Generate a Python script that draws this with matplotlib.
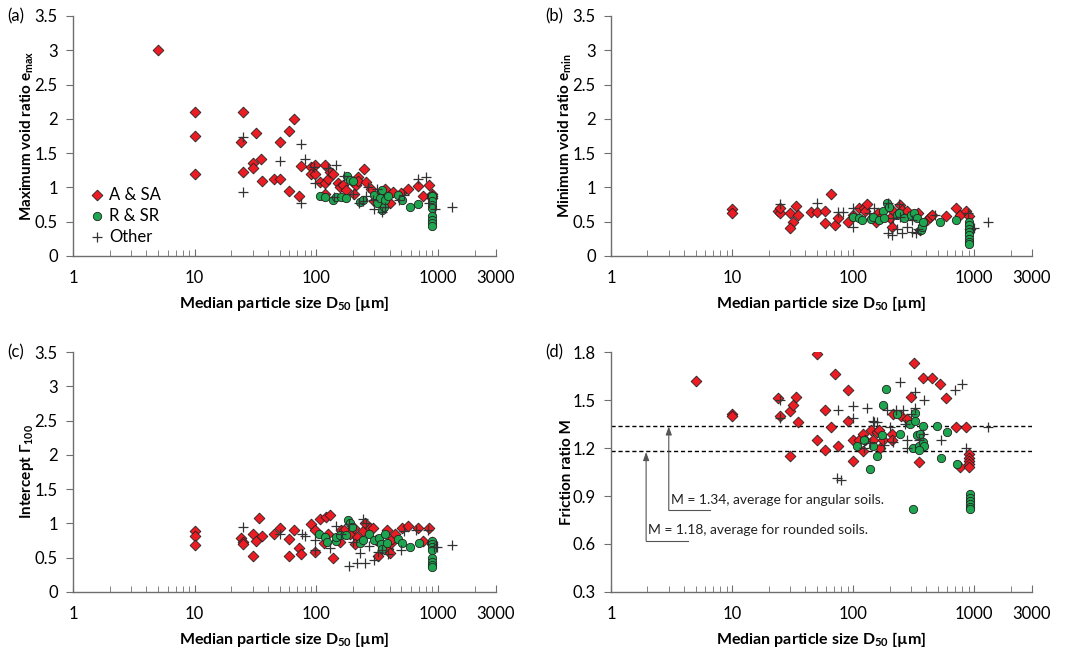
import matplotlib.pyplot as plt
import numpy as np
from matplotlib.ticker import FixedLocator, FuncFormatter

plt.rcParams['font.family'] = ['Lato', 'DejaVu Sans']
plt.rcParams['mathtext.fontset'] = 'custom'
plt.rcParams['mathtext.rm'] = 'Lato'
plt.rcParams['mathtext.bf'] = 'Lato:bold'

# (a) maximum void ratio  -- D50 [um], e_max
a_ang_x = [5, 10, 10, 10, 25, 24, 25, 32, 35, 30, 30, 36, 45, 50, 50, 60, 65, 60, 72, 75,
           90, 90, 97, 97, 107, 118, 118, 125, 130, 138, 118, 150, 158, 165, 175, 200, 210,
           220, 220, 245, 255, 280, 205, 300, 330, 350, 370, 400, 430, 500, 570, 690, 750,
           850, 900, 900, 900]
a_ang_y = [3.0, 2.1, 1.75, 1.2, 2.1, 1.66, 1.22, 1.8, 1.42, 1.36, 1.28, 1.1, 1.12, 1.12, 1.66,
           1.83, 2.0, 0.95, 0.88, 1.31, 1.3, 1.2, 1.33, 1.2, 1.08, 1.32, 1.07, 1.12, 1.22, 1.2,
           0.9, 1.07, 1.0, 1.03, 0.96, 1.08, 1.03, 1.15, 1.1, 1.27, 1.08, 0.98, 0.9, 0.8, 0.9,
           0.87, 0.97, 0.77, 0.94, 0.92, 0.98, 1.02, 0.87, 1.03, 0.9, 0.88, 0.85]
a_rnd_x = [107, 118, 138, 145, 160, 175, 178, 190, 200, 230, 240, 300, 315, 335, 345, 350,
           360, 370, 390, 470, 510, 590, 690, 900, 900, 900, 900, 900, 900, 900, 900]
a_rnd_y = [0.88, 0.86, 0.81, 0.86, 0.86, 0.84, 1.17, 1.11, 1.1, 0.79, 0.82, 0.89, 0.77, 0.84,
           0.96, 0.67, 0.72, 0.82, 0.87, 0.89, 0.82, 0.71, 0.76, 0.87, 0.8, 0.75, 0.7, 0.58,
           0.53, 0.48, 0.44]
a_oth_x = [25, 25, 50, 75, 80, 75, 95, 97, 125, 145, 170, 200, 225, 240, 255, 265, 300, 315,
           350, 370, 480, 530, 680, 790, 850, 950, 1300, 140, 290]
a_oth_y = [1.73, 0.94, 1.39, 1.64, 1.41, 0.77, 1.3, 1.06, 1.28, 1.32, 1.16, 0.91, 0.77, 0.8,
           0.87, 1.0, 0.68, 0.98, 0.64, 0.72, 0.82, 0.89, 1.12, 1.15, 0.77, 0.69, 0.71, 0.86,
           0.82]

# (b) minimum void ratio
b_ang_x = [10, 10, 24, 25, 25, 30, 32, 30, 34, 35, 45, 50, 59, 59, 65, 71, 75, 90, 100, 111,
           123, 126, 130, 160, 155, 170, 210, 210, 200, 245, 255, 280, 340, 355, 410, 435,
           450, 580, 710, 760, 850, 910, 920]
b_ang_y = [0.69, 0.62, 0.66, 0.63, 0.7, 0.62, 0.49, 0.41, 0.73, 0.6, 0.64, 0.64, 0.66, 0.48,
           0.9, 0.45, 0.56, 0.49, 0.6, 0.7, 0.7, 0.65, 0.76, 0.62, 0.5, 0.57, 0.67, 0.43, 0.55,
           0.74, 0.67, 0.66, 0.62, 0.38, 0.52, 0.57, 0.6, 0.58, 0.7, 0.6, 0.66, 0.58, 0.4]
b_rnd_x = [100, 111, 118, 140, 145, 163, 175, 180, 190, 198, 230, 240, 265, 300, 320, 335,
           360, 370, 380, 520, 710, 900, 900, 900, 900, 900, 900, 900, 900]
b_rnd_y = [0.57, 0.55, 0.53, 0.54, 0.57, 0.52, 0.65, 0.56, 0.77, 0.72, 0.6, 0.62, 0.55, 0.6,
           0.62, 0.55, 0.38, 0.43, 0.5, 0.5, 0.52, 0.5, 0.45, 0.4, 0.35, 0.3, 0.25, 0.2, 0.18]
b_oth_x = [25, 50, 75, 82, 100, 100, 150, 135, 195, 195, 210, 230, 255, 280, 305, 330, 345,
           245, 470, 880, 1000, 1300, 240, 215, 305]
b_oth_y = [0.76, 0.77, 0.64, 0.64, 0.7, 0.43, 0.7, 0.62, 0.78, 0.33, 0.31, 0.39, 0.34, 0.43,
           0.35, 0.33, 0.4, 0.57, 0.6, 0.62, 0.41, 0.5, 0.76, 0.55, 0.52]

# (c) intercept Gamma_100
c_ang_x = [10, 10, 10, 24, 25, 25, 30, 30, 32, 34, 36, 45, 50, 60, 60, 65, 72, 75, 90, 97,
           98, 107, 115, 120, 125, 130, 138, 160, 170, 158, 190, 205, 215, 208, 240, 250, 275,
           295, 310, 320, 380, 390, 400, 410, 420, 440, 510, 570, 690, 750, 850, 900, 900]
c_ang_y = [0.89, 0.81, 0.68, 0.79, 0.73, 0.7, 0.85, 0.52, 0.74, 1.08, 0.82, 0.84, 0.94, 0.77,
           0.52, 0.9, 0.64, 0.56, 0.99, 0.9, 0.59, 1.06, 0.71, 1.1, 0.85, 1.13, 0.5, 0.91, 0.9,
           0.73, 0.85, 0.93, 0.8, 0.7, 0.89, 1.01, 0.93, 0.94, 0.76, 0.52, 0.9, 0.63, 0.57,
           0.71, 0.78, 0.84, 0.94, 0.96, 0.94, 0.75, 0.94, 0.73, 0.7]
c_rnd_x = [105, 118, 123, 145, 145, 158, 175, 182, 190, 195, 228, 240, 270, 300, 330, 340,
           350, 370, 380, 470, 510, 590, 700, 900, 900, 900, 900, 900, 900, 900, 900]
c_rnd_y = [0.85, 0.8, 0.73, 0.74, 0.8, 0.83, 0.83, 1.05, 1.0, 0.95, 0.71, 0.76, 0.85, 0.76,
           0.79, 0.7, 0.63, 0.85, 0.72, 0.77, 0.71, 0.66, 0.71, 0.75, 0.7, 0.65, 0.61, 0.5,
           0.44, 0.4, 0.36]
c_oth_x = [25, 50, 76, 80, 97, 97, 130, 145, 160, 185, 200, 185, 215, 228, 250, 240, 255, 270,
           300, 320, 350, 385, 495, 530, 660, 830, 920, 990, 1300]
c_oth_y = [0.95, 0.85, 0.85, 0.82, 0.76, 0.61, 0.64, 0.96, 0.85, 0.99, 0.73, 0.38, 0.42, 0.57,
           0.42, 1.07, 1.01, 0.67, 0.47, 0.58, 0.61, 0.56, 0.61, 0.89, 0.91, 0.9, 0.66, 0.66,
           0.68]

# (d) friction ratio M
d_ang_x = [5, 10, 10, 24, 25, 30, 32, 34, 35, 30, 50, 50, 59, 59, 65, 71, 75, 90, 90, 100,
           100, 111, 120, 120, 126, 140, 145, 158, 165, 168, 175, 210, 215, 210, 250, 280, 300,
           320, 350, 380, 450, 520, 580, 710, 760, 850, 910, 910, 910, 910, 910]
d_ang_y = [1.62, 1.41, 1.4, 1.51, 1.4, 1.43, 1.47, 1.52, 1.36, 1.15, 1.79, 1.25, 1.44, 1.19,
           1.33, 1.66, 1.21, 1.56, 1.37, 1.25, 1.12, 1.25, 1.29, 1.18, 1.25, 1.31, 1.25, 1.3,
           1.31, 1.2, 1.25, 1.29, 1.41, 1.25, 1.4, 1.38, 1.52, 1.73, 1.11, 1.64, 1.64, 1.6,
           1.51, 1.33, 1.08, 1.33, 1.16, 1.14, 1.12, 1.1, 1.08]
d_rnd_x = [188, 177, 108, 122, 139, 147, 158, 173, 231, 246, 294, 327, 327, 334, 311, 349, 356,
           379, 379, 388, 349, 488, 527, 598, 714, 311, 920, 920, 920, 920, 920, 920]
d_rnd_y = [1.57, 1.47, 1.21, 1.25, 1.07, 1.21, 1.15, 1.28, 1.41, 1.29, 1.35, 1.42, 1.37, 1.28,
           1.2, 1.21, 1.29, 1.34, 1.24, 1.21, 1.19, 1.34, 1.14, 1.3, 1.1, 0.82, 0.91, 0.89,
           0.87, 0.85, 0.83, 0.82]
d_oth_x = [25, 25, 75, 100, 100, 130, 145, 150, 158, 74, 79, 190, 200, 225, 245, 260, 270, 280,
           280, 300, 327, 327, 349, 380, 385, 530, 690, 800, 850, 1300, 122, 139, 180, 215]
d_oth_y = [1.5, 1.39, 1.44, 1.46, 1.39, 1.45, 1.37, 1.36, 1.36, 1.01, 1.0, 1.44, 1.33, 1.44,
           1.61, 1.44, 1.35, 1.25, 1.2, 1.41, 1.55, 1.45, 1.25, 1.29, 1.5, 1.25, 1.56, 1.6, 1.2,
           1.33, 1.2, 1.23, 1.22, 1.24]

M_angular = 1.34
M_rounded = 1.18

RED = '#ec1c24'
GREEN = '#1ea54f'
AXCOL = '#6e6e6e'

fig = plt.figure(figsize=(10.71, 6.49), dpi=100)
W, H = 1071, 649


def make_ax(left, top, right, bottom):
    return fig.add_axes([left / W, 1 - bottom / H, (right - left) / W, (bottom - top) / H])


def style_ax(ax, ylim, yticks, ylabel, letter):
    ax.set_xscale('log')
    ax.set_xlim(1, 3000)
    ax.set_ylim(*ylim)
    ax.xaxis.set_major_locator(FixedLocator([1, 10, 100, 1000, 3000]))
    ax.xaxis.set_major_formatter(FuncFormatter(lambda v, p: '%g' % v))
    minors = [m * 10 ** e for e in range(0, 4) for m in range(2, 10) if m * 10 ** e < 3000]
    ax.xaxis.set_minor_locator(FixedLocator(minors))
    ax.xaxis.set_minor_formatter(FuncFormatter(lambda v, p: ''))
    ax.set_yticks(yticks)
    ax.yaxis.set_major_formatter(FuncFormatter(lambda v, p: '%g' % round(v, 2)))
    for s in ['top', 'right']:
        ax.spines[s].set_visible(False)
    for s in ['left', 'bottom']:
        ax.spines[s].set_color(AXCOL)
        ax.spines[s].set_linewidth(1.0)
    ax.tick_params(axis='x', which='both', direction='in', color=AXCOL, labelsize=12, pad=10)
    ax.tick_params(axis='x', which='major', length=5)
    ax.tick_params(axis='x', which='minor', length=4)
    ax.tick_params(axis='y', direction='out', length=5, color=AXCOL, labelsize=12, pad=6)
    ax.set_xlabel('Median particle size D$_{\\mathbf{50}}$ [µm]', fontsize=11.5,
                  fontweight='bold', labelpad=6)
    ax.set_ylabel(ylabel, fontsize=11, fontweight='bold', labelpad=-1)
    ax.text(-0.155, 1.0, letter, transform=ax.transAxes, fontsize=12, va='center')


def scatter3(ax, ang, rnd, oth):
    ax.scatter(*ang, marker='D', s=30, c=RED, edgecolors='#222222', linewidths=0.6,
               label='A & SA', zorder=3)
    ax.scatter(*rnd, marker='o', s=36, c=GREEN, edgecolors='#222222', linewidths=0.6,
               label='R & SR', zorder=3)
    ax.scatter(*oth, marker='+', s=45, c='#333333', linewidths=0.9, label='Other', zorder=4)


ax_a = make_ax(73, 16, 496, 256)
ax_b = make_ax(611, 16, 1032, 256)
ax_c = make_ax(73, 352, 496, 592)
ax_d = make_ax(611, 352, 1032, 592)

void_ticks = np.arange(0, 3.51, 0.5)

scatter3(ax_a, (a_ang_x, a_ang_y), (a_rnd_x, a_rnd_y), (a_oth_x, a_oth_y))
style_ax(ax_a, (0, 3.5), void_ticks, 'Maximum void ratio e$_{\\mathbf{max}}$', '(a)')
ax_a.legend(loc='lower left', bbox_to_anchor=(0.03, 0.02), frameon=False, fontsize=12,
            handlelength=0.6, handletextpad=0.4, labelspacing=0.3, borderaxespad=0)

scatter3(ax_b, (b_ang_x, b_ang_y), (b_rnd_x, b_rnd_y), (b_oth_x, b_oth_y))
style_ax(ax_b, (0, 3.5), void_ticks, 'Minimum void ratio e$_{\\mathbf{min}}$', '(b)')

scatter3(ax_c, (c_ang_x, c_ang_y), (c_rnd_x, c_rnd_y), (c_oth_x, c_oth_y))
style_ax(ax_c, (0, 3.5), void_ticks, 'Intercept Γ$_{\\mathbf{100}}$', '(c)')

scatter3(ax_d, (d_ang_x, d_ang_y), (d_rnd_x, d_rnd_y), (d_oth_x, d_oth_y))
style_ax(ax_d, (0.3, 1.8), np.arange(0.3, 1.81, 0.3), 'Friction ratio M', '(d)')

# average lines and callouts
for m in (M_angular, M_rounded):
    ax_d.axhline(m, color='black', linestyle=(0, (3, 2)), linewidth=1.0, zorder=2)

arrow_kw = dict(arrowstyle='-|>,head_length=0.5,head_width=0.18', color='#555555', lw=0.8,
                shrinkA=0, shrinkB=0)
ax_d.annotate('', xy=(3.0, M_angular - 0.005), xytext=(3.0, 0.81), arrowprops=arrow_kw)
ax_d.plot([3.0, 6.6], [0.81, 0.81], color='#555555', lw=0.8)
ax_d.text(3.15, 0.875, 'M = %.2f, average for angular soils.' % M_angular, fontsize=10,
          va='center', color='#222222')
ax_d.annotate('', xy=(1.95, M_rounded - 0.005), xytext=(1.95, 0.62), arrowprops=arrow_kw)
ax_d.plot([1.95, 4.3], [0.62, 0.62], color='#555555', lw=0.8)
ax_d.text(2.03, 0.685, 'M = %.2f, average for rounded soils.' % M_rounded, fontsize=10,
          va='center', color='#222222')

plt.savefig('out.png', dpi=100)
